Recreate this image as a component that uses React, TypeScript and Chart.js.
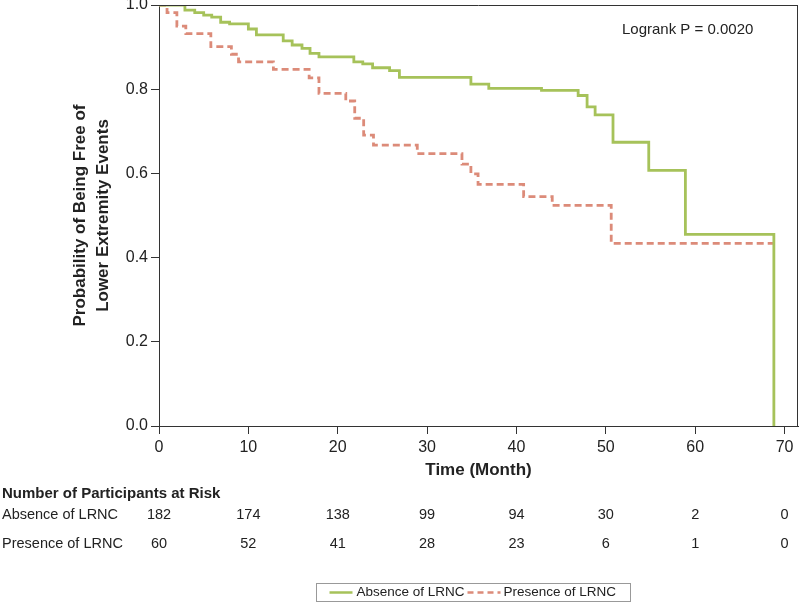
import React, { useEffect, useRef } from 'react';
import { Chart, registerables } from 'chart.js';

Chart.register(...registerables);

// ---- Data ----
const seriesNames = ['Absence of LRNC', 'Presence of LRNC'];
const absenceTimes = [0, 2.9, 4.0, 5.0, 5.9, 6.9, 7.9, 10.0, 10.9, 13.9, 14.9, 16.0, 16.9, 17.9, 21.8, 22.8, 23.9, 25.8, 26.9, 34.9, 36.9, 42.8, 46.9, 47.9, 48.8, 50.8, 54.8, 58.9, 68.8];
const absenceSurv = [1.0, 0.988, 0.982, 0.976, 0.971, 0.959, 0.955, 0.943, 0.929, 0.915, 0.905, 0.897, 0.885, 0.877, 0.865, 0.86, 0.851, 0.844, 0.828, 0.812, 0.802, 0.797, 0.785, 0.758, 0.739, 0.674, 0.607, 0.455, 0.0];
const presenceTimes = [0, 0.9, 2.0, 3.0, 5.8, 8.1, 8.9, 12.8, 16.8, 17.9, 20.9, 21.9, 22.9, 24.0, 28.9, 33.9, 34.9, 35.7, 40.8, 44.0, 50.6, 68.7];
const presenceSurv = [1.0, 0.982, 0.95, 0.932, 0.901, 0.883, 0.865, 0.847, 0.827, 0.79, 0.772, 0.731, 0.691, 0.667, 0.647, 0.622, 0.599, 0.574, 0.545, 0.524, 0.434, 0.434];
const xTicks = [0, 10, 20, 30, 40, 50, 60, 70];
const yTicks = [0, 0.2, 0.4, 0.6, 0.8, 1.0];
const riskAbsence = [182, 174, 138, 99, 94, 30, 2, 0];
const riskPresence = [60, 52, 41, 28, 23, 6, 1, 0];
const riskHeader = 'Number of Participants at Risk';
const pValueText = 'Logrank P = 0.0020';
const xTitle = 'Time (Month)';
const yTitle = ['Probability of Being Free of', 'Lower Extremity Events'];

const GREEN = '#A6C25A';
const RED = '#DC8B79';
const FONT = '"Liberation Sans", Arial, Helvetica, sans-serif';
const TEXT = '#222222';
const AXIS = '#333333';
const DASH = [7, 4];

const extrasPlugin = {
  id: 'extras',
  afterDraw(chart: any) {
    const { ctx, chartArea, scales } = chart;
    const x = scales.x;
    ctx.save();
    // top & right frame
    ctx.strokeStyle = AXIS;
    ctx.lineWidth = 1;
    ctx.beginPath();
    ctx.moveTo(chartArea.left, chartArea.top + 0.5);
    ctx.lineTo(chartArea.right, chartArea.top + 0.5);
    ctx.moveTo(chartArea.right - 0.5, chartArea.top);
    ctx.lineTo(chartArea.right - 0.5, chartArea.bottom);
    ctx.stroke();

    // logrank text
    ctx.fillStyle = TEXT;
    ctx.font = `15px ${FONT}`;
    ctx.textBaseline = 'middle';
    ctx.textAlign = 'left';
    ctx.fillText(pValueText, chartArea.right - 176, chartArea.top + 25);

    // risk table
    ctx.font = `bold 15px ${FONT}`;
    ctx.fillText(riskHeader, 2, 494);
    ctx.font = `14.5px ${FONT}`;
    ctx.fillText(seriesNames[0], 2, 515);
    ctx.fillText(seriesNames[1], 2, 544);
    ctx.textAlign = 'center';
    xTicks.forEach((t, i) => {
      const px = x.getPixelForValue(t);
      ctx.fillText(String(riskAbsence[i]), px, 515);
      ctx.fillText(String(riskPresence[i]), px, 544);
    });

    // legend
    const lx = 316.5, ly = 583.5, lw = 314, lh = 18;
    ctx.strokeStyle = '#999999';
    ctx.lineWidth = 1;
    ctx.strokeRect(lx, ly, lw, lh);
    const cy = ly + lh / 2;
    ctx.font = `13.5px ${FONT}`;
    ctx.lineWidth = 2.5;
    ctx.strokeStyle = GREEN;
    ctx.beginPath();
    ctx.moveTo(lx + 13, cy);
    ctx.lineTo(lx + 36, cy);
    ctx.stroke();
    ctx.textAlign = 'left';
    ctx.fillStyle = TEXT;
    ctx.fillText(seriesNames[0], lx + 40, cy);
    ctx.strokeStyle = RED;
    ctx.setLineDash([6, 4]);
    ctx.beginPath();
    ctx.moveTo(lx + 151, cy);
    ctx.lineTo(lx + 184, cy);
    ctx.stroke();
    ctx.setLineDash([]);
    ctx.fillText(seriesNames[1], lx + 187, cy);
    ctx.restore();
  },
};

export default function App() {
  const ref = useRef<HTMLCanvasElement>(null);
  useEffect(() => {
    if (!ref.current) return;
    const chart = new Chart(ref.current, {
      type: 'line',
      data: {
        datasets: [
          {
            label: seriesNames[0],
            data: absenceTimes.map((t, i) => ({ x: t, y: absenceSurv[i] })),
            borderColor: GREEN,
            borderWidth: 2.8,
            stepped: true,
            pointRadius: 0,
            fill: false,
          },
          {
            label: seriesNames[1],
            data: presenceTimes.map((t, i) => ({ x: t, y: presenceSurv[i] })),
            borderColor: RED,
            borderWidth: 2.8,
            borderDash: DASH,
            stepped: true,
            pointRadius: 0,
            fill: false,
          },
        ],
      },
      options: {
        responsive: false,
        animation: false,
        events: [],
        layout: { padding: { left: 0, top: 5, right: 2, bottom: 122 } },
        plugins: { legend: { display: false }, tooltip: { enabled: false } },
        scales: {
          x: {
            type: 'linear',
            min: 0,
            max: 71.5,
            afterBuildTicks: (axis: any) => {
              axis.ticks = xTicks.map((v) => ({ value: v }));
            },
            afterFit: (scale: any) => {
              scale.height = 55;
              scale.paddingLeft = 0;
              scale.paddingRight = 0;
            },
            grid: { display: true, drawOnChartArea: false, drawTicks: true, tickLength: 8, color: AXIS },
            border: { display: true, color: AXIS, width: 1 },
            ticks: { color: TEXT, font: { family: FONT, size: 16 }, padding: 4, maxRotation: 0 },
            title: { display: true, text: xTitle, color: TEXT, font: { family: FONT, size: 17, weight: 'bold' }, padding: 0 },
          },
          y: {
            type: 'linear',
            min: 0,
            max: 1,
            afterBuildTicks: (axis: any) => {
              axis.ticks = yTicks.map((v) => ({ value: v }));
            },
            afterFit: (scale: any) => {
              scale.width = 159;
              scale.paddingTop = 0;
              scale.paddingBottom = 0;
            },
            grid: { display: true, drawOnChartArea: false, drawTicks: true, tickLength: 8, color: AXIS },
            border: { display: true, color: AXIS, width: 1 },
            ticks: {
              color: TEXT,
              font: { family: FONT, size: 16 },
              padding: 3,
              callback: (v: any) => Number(v).toFixed(1),
            },
            title: {
              display: true,
              text: yTitle,
              color: TEXT,
              font: { family: FONT, size: 17, weight: 'bold', lineHeight: 1.4 },
              padding: { top: 68, bottom: 0 },
            },
          },
        },
      },
      plugins: [extrasPlugin],
    });
    return () => chart.destroy();
  }, []);
  return (
    <div style={{ position: 'absolute', left: 0, top: 0, width: 800, height: 603, background: '#fff' }}>
      <canvas ref={ref} width={800} height={603} style={{ display: 'block' }} />
    </div>
  );
}
